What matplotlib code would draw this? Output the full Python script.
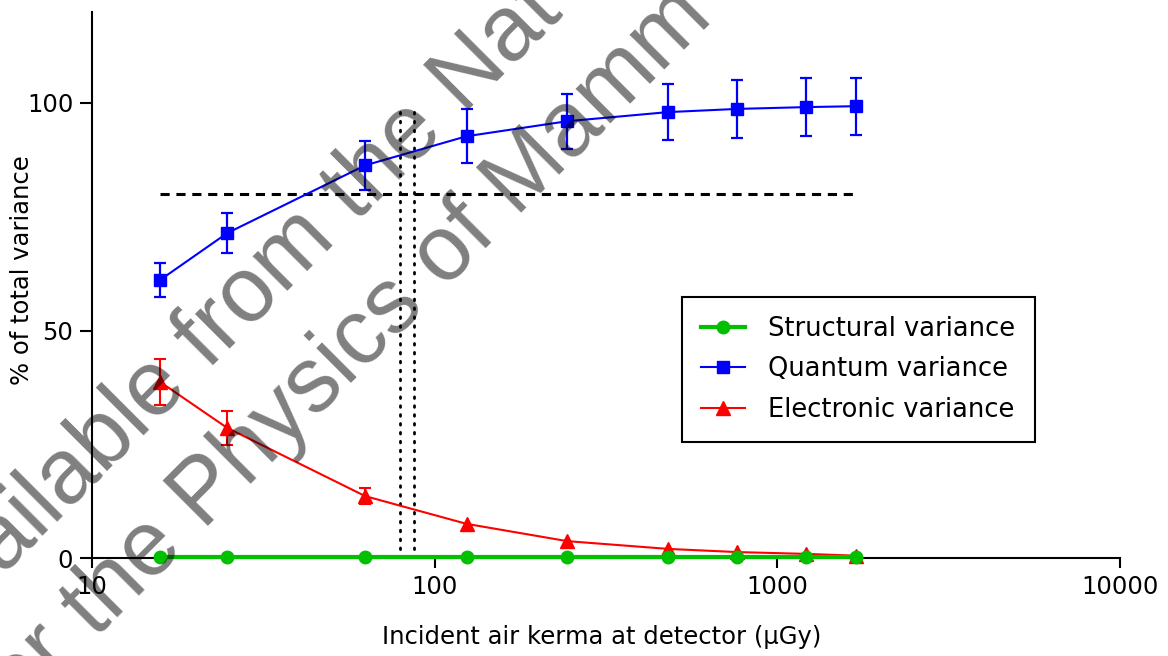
import matplotlib.pyplot as plt
from matplotlib.ticker import NullLocator

plt.rcParams['font.family'] = ['DejaVu Sans']

# incident air kerma at detector (uGy)
dose = [15.8, 24.8, 62.7, 124, 244, 480, 764, 1216, 1700]
structural = [0.3, 0.3, 0.3, 0.3, 0.3, 0.3, 0.3, 0.3, 0.3]
quantum = [61.1, 71.4, 86.3, 92.7, 96.0, 98.0, 98.7, 99.1, 99.3]
quantum_err = [3.8, 4.4, 5.4, 5.9, 6.0, 6.1, 6.3, 6.3, 6.3]
electronic = [38.7, 28.6, 13.6, 7.5, 3.7, 2.0, 1.3, 0.9, 0.5]
electronic_err = [5.0, 3.8, 1.75, 0, 0, 0, 0, 0, 0]

target = 80
dose_lo, dose_hi = 79, 87
top_dot = 99

W, H = 1168, 656
fs = 17.5
fig = plt.figure(figsize=(W / 100, H / 100), dpi=100)
ax = fig.add_axes([92 / W, 1 - 558 / H, (1120 - 92) / W, (558 - 12) / H])

# reference lines
ax.plot([dose[0], dose[-1]], [target, target], color='black', lw=2.2,
        linestyle=(0, (3, 2.2)), zorder=2)
for xv in (dose_lo, dose_hi):
    ax.plot([xv, xv], [0, top_dot], color='black', lw=2,
            linestyle=(0, (0.6, 2.6)), dash_capstyle='round', zorder=2)

# series
h_struct, = ax.plot(dose, structural, color='#00c000', lw=3, marker='o', ms=9,
                    zorder=5, clip_on=False)
h_quant = ax.errorbar(dose, quantum, yerr=quantum_err, color='blue', lw=1.5,
                      marker='s', ms=9, elinewidth=1.6, capsize=4, capthick=1.6,
                      zorder=4)
h_elec, = ax.plot(dose, electronic, color='red', lw=1.5, marker='^', ms=9.5,
                  zorder=4, clip_on=False)
err_idx = [i for i, e in enumerate(electronic_err) if e > 0]
ax.errorbar([dose[i] for i in err_idx], [electronic[i] for i in err_idx],
            yerr=[electronic_err[i] for i in err_idx], fmt='none',
            ecolor='red', elinewidth=1.5, capsize=4, capthick=1.5, zorder=4)

ax.set_xscale('log')
ax.set_xlim(10, 10000)
ax.set_ylim(0, 120)
ax.set_xticks([10, 100, 1000, 10000])
ax.set_xticklabels(['10', '100', '1000', '10000'])
ax.xaxis.set_minor_locator(NullLocator())
ax.set_yticks([0, 50, 100])

for s in ('top', 'right'):
    ax.spines[s].set_visible(False)
for s in ('left', 'bottom'):
    ax.spines[s].set_linewidth(1.5)
ax.tick_params(axis='x', length=7.5, width=1.5, labelsize=fs, pad=5)
ax.tick_params(axis='y', length=8.5, width=1.5, labelsize=fs, pad=5)

ax.set_xlabel('Incident air kerma at detector (\u03bcGy)', fontsize=fs)
ax.xaxis.set_label_coords(0.496, -0.122)
ax.set_ylabel('% of total variance', fontsize=fs)
ax.yaxis.set_label_coords(-0.056, 0.527)

leg = ax.legend([h_struct, h_quant[0], h_elec],
                ['Structural variance', 'Quantum variance', 'Electronic variance'],
                loc='upper left', bbox_to_anchor=(0.574, 0.478),
                borderaxespad=0, fontsize=18.5, frameon=True, fancybox=False,
                framealpha=1, edgecolor='black', handlelength=1.7,
                handletextpad=0.9, labelspacing=0.55, borderpad=0.75)
leg.get_frame().set_linewidth(1.5)

# watermark overlay
wm = dict(fontsize=66, family='Liberation Sans', color='black', alpha=0.5,
          rotation=45, rotation_mode='anchor', ha='left', va='baseline',
          zorder=20)
fig.text(-72 / W, 1 - 650 / H, 'Available from the Nat', **wm)
fig.text(2 / W, 1 - 733 / H, 'for the Physics of Mamm', **wm)

fig.savefig('out.png', dpi=100)
